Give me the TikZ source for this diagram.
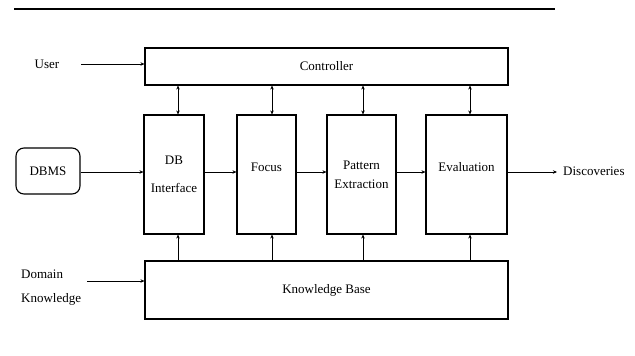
\documentclass[tikz,border=0pt]{standalone}
\usepackage{fontspec}
\setmainfont{Liberation Serif}
\usetikzlibrary{arrows.meta}
\begin{document}
\begin{tikzpicture}[x=1pt,y=-1pt,
  every node/.style={font=\fontsize{13}{15}\selectfont},
  box/.style={draw, line width=1.1pt, inner sep=0pt, align=center},
  conn/.style={line width=0.8pt, -{Stealth[length=4pt,width=3.5pt]}},
  biconn/.style={line width=0.8pt, {Stealth[length=4pt,width=3.5pt]}-{Stealth[length=4pt,width=3.5pt]}},
  lbl/.style={inner sep=0pt, align=left}]
\useasboundingbox (0,0) rectangle (635,356);
\coordinate (rulel) at (14,9);
\coordinate (ruler) at (555,9);
\draw[line width=1.5pt] (rulel) -- (ruler);

\node[box, minimum width=363pt, minimum height=37pt] (ctrl) at (326.5,66.5) {Controller};
\node[box, minimum width=363pt, minimum height=58pt] (kb) at (326.5,290) {Knowledge Base};
\node[box, minimum width=60pt, minimum height=119pt] (db) at (174,174.5) {DB\\[13pt]Interface};
\node[box, minimum width=59pt, minimum height=119pt, text depth=15pt] (focus) at (266.5,174.5) {Focus};
\node[box, minimum width=69pt, minimum height=119pt] (pat) at (361.5,174.5) {Pattern\\[4pt]Extraction};
\node[box, minimum width=81pt, minimum height=119pt, text depth=15pt] (eval) at (466.5,174.5) {Evaluation};
\node[box, rounded corners=8pt, minimum width=64pt, minimum height=46pt] (dbms) at (48,171) {DBMS};

\node[lbl] (user) at (47,64) {User};
\node[lbl, anchor=west] (domain) at (21,288) {Domain\\[9pt]Knowledge};
\node[lbl, anchor=west] (disc) at (563,171) {Discoveries};

\coordinate (flow) at (0,172);
\coordinate (usr) at (81,64);
\coordinate (dom) at (87,281);

\draw[conn] (usr) -- (usr -| ctrl.west);
\draw[conn] (dom) -- (dom -| kb.west);
\draw[conn] (dbms.east |- flow) -- (db.west |- flow);
\draw[conn] (db.east |- flow) -- (focus.west |- flow);
\draw[conn] (focus.east |- flow) -- (pat.west |- flow);
\draw[conn] (pat.east |- flow) -- (eval.west |- flow);
\draw[conn] (eval.east |- flow) -- ([xshift=-6pt]disc.west |- flow);

\draw[biconn] ([xshift=4pt]db.north) -- ([xshift=4pt]db.north |- ctrl.south);
\draw[biconn] ([xshift=5.5pt]focus.north) -- ([xshift=5.5pt]focus.north |- ctrl.south);
\draw[biconn] ([xshift=1.5pt]pat.north) -- ([xshift=1.5pt]pat.north |- ctrl.south);
\draw[biconn] ([xshift=3.5pt]eval.north) -- ([xshift=3.5pt]eval.north |- ctrl.south);

\draw[conn] ([xshift=4pt]db.south |- kb.north) -- ([xshift=4pt]db.south);
\draw[conn] ([xshift=5.5pt]focus.south |- kb.north) -- ([xshift=5.5pt]focus.south);
\draw[conn] ([xshift=1.5pt]pat.south |- kb.north) -- ([xshift=1.5pt]pat.south);
\draw[conn] ([xshift=3.5pt]eval.south |- kb.north) -- ([xshift=3.5pt]eval.south);
\end{tikzpicture}
\end{document}
